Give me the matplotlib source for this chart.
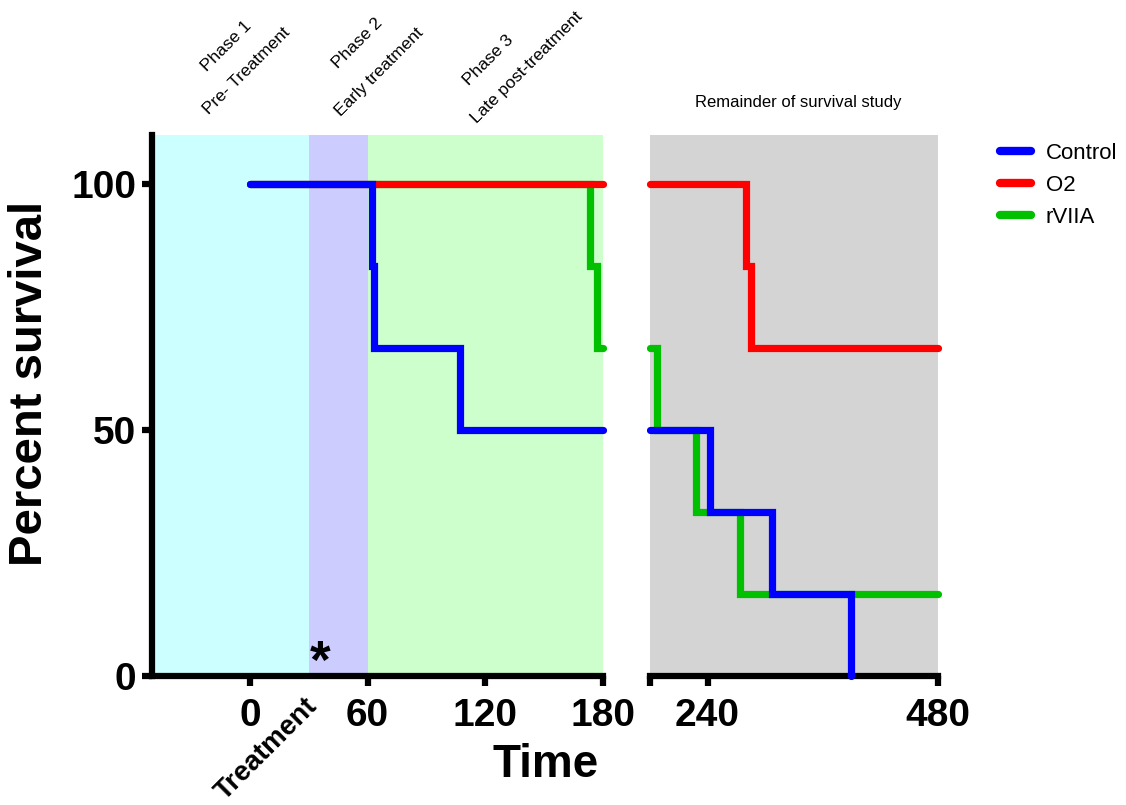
import matplotlib
matplotlib.use("Agg")
import matplotlib.pyplot as plt
from matplotlib.lines import Line2D

plt.rcParams['font.family'] = ['Liberation Sans', 'DejaVu Sans']

# ---- data ----
series_names = ["Control", "O2", "rVIIA"]
series_colors = ["#0000FF", "#FF0000", "#00C000"]

control_time = [0, 62, 63, 107, 243, 307, 389]
control_surv = [100, 83.3, 66.7, 50, 33.3, 16.7, 0]

o2_time = [0, 280, 285, 480]
o2_surv = [100, 83.3, 66.7, 66.7]

rviia_time = [0, 173, 177, 187, 228, 274, 480]
rviia_surv = [100, 83.3, 66.7, 50, 33.3, 16.7, 16.7]

left_ticks = [0, 60, 120, 180]
right_ticks = [180, 240, 480]
right_labels = ["", "240", "480"]
y_ticks = [0, 50, 100]

phase_bounds = [-50, 30, 60, 180]
phase_colors = ["#CCFFFF", "#CCCCFF", "#CCFFCC"]
phase_titles = ["Phase 1", "Phase 2", "Phase 3"]
phase_subtitles = ["Pre- Treatment", "Early treatment", "Late post-treatment"]

W, H = 1126, 805
fig = plt.figure(figsize=(W / 100, H / 100), dpi=100)


def fx(px):
    return px / W


def fy(py):
    return 1 - py / H


axL = fig.add_axes([fx(151.7), fy(676), fx(603.3) - fx(151.7), fy(135) - fy(676)])
axR = fig.add_axes([fx(650), fy(676), fx(938) - fx(650), fy(135) - fy(676)])

SPW = 4.5
LW = 5.2
TFS = 28

for ax in (axL, axR):
    ax.set_ylim(0, 110)
    for s in ax.spines.values():
        s.set_linewidth(SPW)
    ax.spines['top'].set_visible(False)
    ax.spines['right'].set_visible(False)
    ax.tick_params(axis='both', direction='out', length=7, width=SPW)
    ax.tick_params(axis='x', pad=9)
    ax.tick_params(axis='y', pad=4)

axL.set_xlim(phase_bounds[0], phase_bounds[-1])
axR.set_xlim(180, 480)

for i in range(3):
    axL.axvspan(phase_bounds[i], phase_bounds[i + 1], color=phase_colors[i], lw=0, zorder=0)
axR.axvspan(180, 480, color="#D4D4D4", lw=0, zorder=0)


def segment(times, surv, lo, hi):
    """Restrict a step series to the window [lo, hi]."""
    xs, ys = [], []
    cur = surv[0]
    for t, s in zip(times, surv):
        if t <= lo:
            cur = s
    xs.append(lo)
    ys.append(cur)
    for t, s in zip(times, surv):
        if lo < t < hi:
            xs.append(t)
            ys.append(s)
        elif t >= hi:
            break
    if xs[-1] < hi and ys[-1] > 0:
        xs.append(hi)
        ys.append(ys[-1])
    return xs, ys


data = [(rviia_time, rviia_surv, 2), (o2_time, o2_surv, 1), (control_time, control_surv, 0)]
for t, s, ci in data:
    for ax, lo, hi in ((axL, 0, 180), (axR, 180, 480)):
        xs, ys = segment(t, s, lo, hi)
        ax.plot(xs, ys, drawstyle='steps-post', color=series_colors[ci], lw=LW,
                solid_capstyle='round', solid_joinstyle='miter', zorder=3 + (2 - ci),
                clip_on=False)

axL.set_xticks(left_ticks)
axL.set_xticklabels([str(v) for v in left_ticks], fontweight='bold', fontsize=TFS)
axL.set_yticks(y_ticks)
axL.set_yticklabels([str(v) for v in y_ticks], fontweight='bold', fontsize=TFS)

axR.set_xticks(right_ticks)
axR.set_xticklabels(right_labels, fontweight='bold', fontsize=TFS)
axR.spines['left'].set_visible(False)
axR.set_yticks([])
axR.set_xticks([180], minor=True)
axR.tick_params(axis='x', which='minor', direction='inout', length=14, width=SPW)

# Labels
fig.text(fx(30), fy(383), "Percent survival", rotation=90, fontsize=34,
         fontweight='bold', ha='center', va='center')
fig.text(fx(546), fy(765), "Time", fontsize=33, fontweight='bold',
         ha='center', va='center')
fig.text(fx(267), fy(749), "Treatment", fontsize=20, fontweight='bold',
         rotation=45, rotation_mode='anchor', ha='center', va='center')
fig.text(fx(320), fy(664), "*", fontsize=38, fontweight='bold',
         ha='center', va='center')
fig.text(fx(798), fy(102), "Remainder of survival study", fontsize=12,
         ha='center', va='center')

title_pos = [(226, 46), (357, 43), (488, 60)]
sub_pos = [(247, 71), (379, 72), (527, 67)]
for i in range(3):
    fig.text(fx(title_pos[i][0]), fy(title_pos[i][1]), phase_titles[i], fontsize=12.5,
             rotation=45, rotation_mode='anchor', ha='center', va='center')
    fig.text(fx(sub_pos[i][0]), fy(sub_pos[i][1]), phase_subtitles[i], fontsize=12.5,
             rotation=45, rotation_mode='anchor', ha='center', va='center')

handles = [Line2D([0], [0], color=c, lw=6, solid_capstyle='round') for c in series_colors]
fig.legend(handles, series_names, loc='upper left', bbox_to_anchor=(fx(1000), fy(143)),
           frameon=False, fontsize=16, handlelength=1.4, handletextpad=0.65,
           labelspacing=0.5, borderaxespad=0, borderpad=0)

fig.savefig("out.png", dpi=100)
